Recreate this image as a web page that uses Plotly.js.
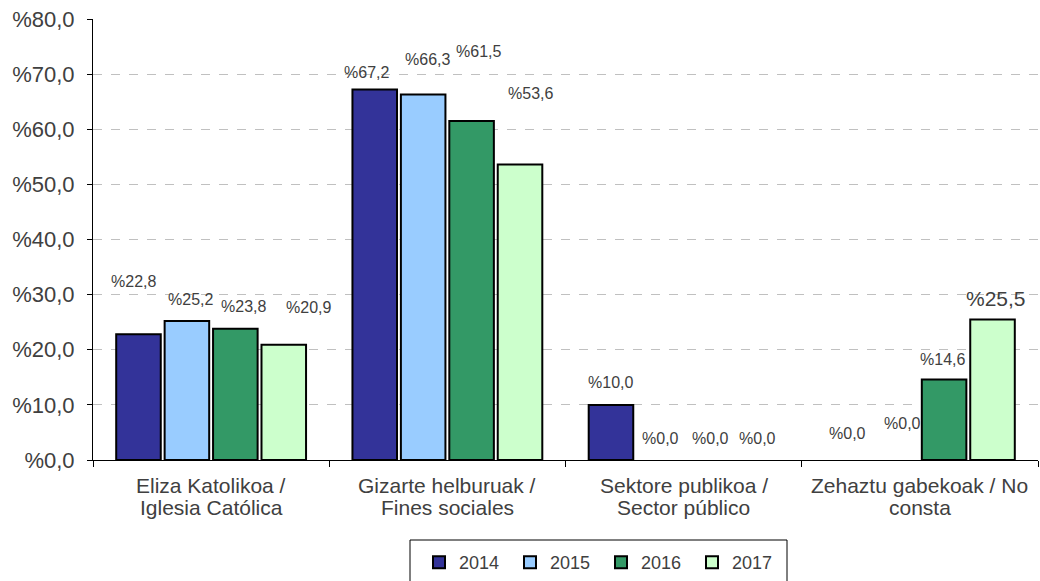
<!DOCTYPE html>
<html>
<head>
<meta charset="utf-8">
<script src="https://cdn.plot.ly/plotly-3.0.1.min.js"></script>
<style>html,body{margin:0;padding:0;background:#fff;}#chart{width:1040px;height:581px;}</style>
</head>
<body>
<div id="chart"></div>
<script>
// ---- data ----
const categories = [
  "Eliza Katolikoa /<br>Iglesia Católica",
  "Gizarte helburuak /<br>Fines sociales",
  "Sektore publikoa /<br>Sector público",
  "Zehaztu gabekoak / No<br>consta"
];
const seriesNames = ["2014", "2015", "2016", "2017"];
const values2014 = [22.8, 67.2, 10.0, 0.0];
const values2015 = [25.2, 66.3, 0.0, 0.0];
const values2016 = [23.8, 61.5, 0.0, 14.6];
const values2017 = [20.9, 53.6, 0.0, 25.5];
const yTicks = [0, 10, 20, 30, 40, 50, 60, 70, 80];

// ---- styles ----
const FONT = "Liberation Sans, Arial, sans-serif";
const TEXT = "#404040";
const colors = ["#333399", "#99CCFF", "#339966", "#CCFFCC"];
// label pixel offsets (per series, per category) relative to category centre / bar top
const labelXShift = [
  [-78, -81, -73, -72],
  [-21, -20, -23, -17],
  [32, 31, 27, 23],
  [97, 83, 74, 76]
];
const labelYShift = [
  [53, 17, 22, 27],
  [22, 35, 22, 37],
  [22, 69, 22, 20],
  [37, 71, 22, 21]
];
const labelSize = [
  [16, 16, 16, 16],
  [16, 16, 16, 16],
  [16, 16, 16, 16],
  [16, 16, 16, 21]
];

const allValues = [values2014, values2015, values2016, values2017];
const fmt = v => "%" + v.toFixed(1).replace(".", ",");

const traces = allValues.map((vals, i) => ({
  type: "bar",
  name: seriesNames[i],
  x: categories,
  y: vals,
  marker: {
    color: colors[i],
    line: { color: "#000000", width: vals.map(v => (v > 0 ? 2 : 0)) }
  },
  hoverinfo: "skip"
}));

const annotations = [];
allValues.forEach((vals, i) => {
  vals.forEach((v, j) => {
    annotations.push({
      x: categories[j], y: v, xref: "x", yref: "y",
      text: fmt(v), showarrow: false,
      xshift: labelXShift[i][j], yshift: labelYShift[i][j],
      font: { family: FONT, size: labelSize[i][j], color: TEXT }
    });
  });
});

// category labels drawn as two tight lines under each group
const plotTop = 19, plotBottom = 460;
const toPaperY = py => (plotBottom - py) / (plotBottom - plotTop);
const catLineY = [486, 507];
categories.forEach(c => {
  c.split("<br>").forEach((line, k) => {
    annotations.push({
      x: c, xref: "x", y: toPaperY(catLineY[k]), yref: "paper",
      yanchor: "middle", text: line, showarrow: false,
      font: { family: FONT, size: 21, color: TEXT }
    });
  });
});

const plotLeft = 93, plotRight = 1038;
const toPaperX = px => (px - plotLeft) / (plotRight - plotLeft);

const layout = {
  width: 1040, height: 581,
  margin: { l: 93, r: 2, t: 19, b: 121 },
  paper_bgcolor: "#ffffff", plot_bgcolor: "#ffffff",
  font: { family: FONT, color: TEXT },
  barmode: "group",
  bargap: 0.18,
  bargroupgap: 0.08,
  showlegend: true,
  legend: {
    orientation: "h",
    xref: "container", yref: "container",
    x: 419 / 1040, xanchor: "left",
    y: 1 - 544 / 581, yanchor: "top",
    borderwidth: 0,
    font: { family: FONT, size: 18, color: TEXT },
    itemwidth: 30,
    entrywidth: 46,
    tracegroupgap: 0
  },
  shapes: [{
    type: "rect", xref: "paper", yref: "paper",
    x0: toPaperX(410), x1: toPaperX(787),
    y0: toPaperY(540), y1: toPaperY(600),
    line: { color: "#000000", width: 1 }, fillcolor: "rgba(0,0,0,0)"
  }],
  xaxis: {
    type: "category",
    tickson: "boundaries",
    ticks: "outside", ticklen: 6, tickcolor: "#000000",
    showticklabels: false,
    showline: true, linecolor: "#000000", linewidth: 1,
    showgrid: false,
    fixedrange: true
  },
  yaxis: {
    range: [0, 80],
    tickvals: yTicks,
    ticktext: yTicks.map(fmt),
    ticks: "outside", ticklen: 5, tickcolor: "#000000",
    ticklabelstandoff: 8,
    showline: true, linecolor: "#000000", linewidth: 1,
    showgrid: true, gridcolor: "#c0c0c0", gridwidth: 1, griddash: "dash",
    zeroline: false,
    tickfont: { family: FONT, size: 22, color: TEXT },
    fixedrange: true
  },
  annotations: annotations
};

Plotly.newPlot("chart", traces, layout, { displayModeBar: false, staticPlot: true });
</script>
</body>
</html>
